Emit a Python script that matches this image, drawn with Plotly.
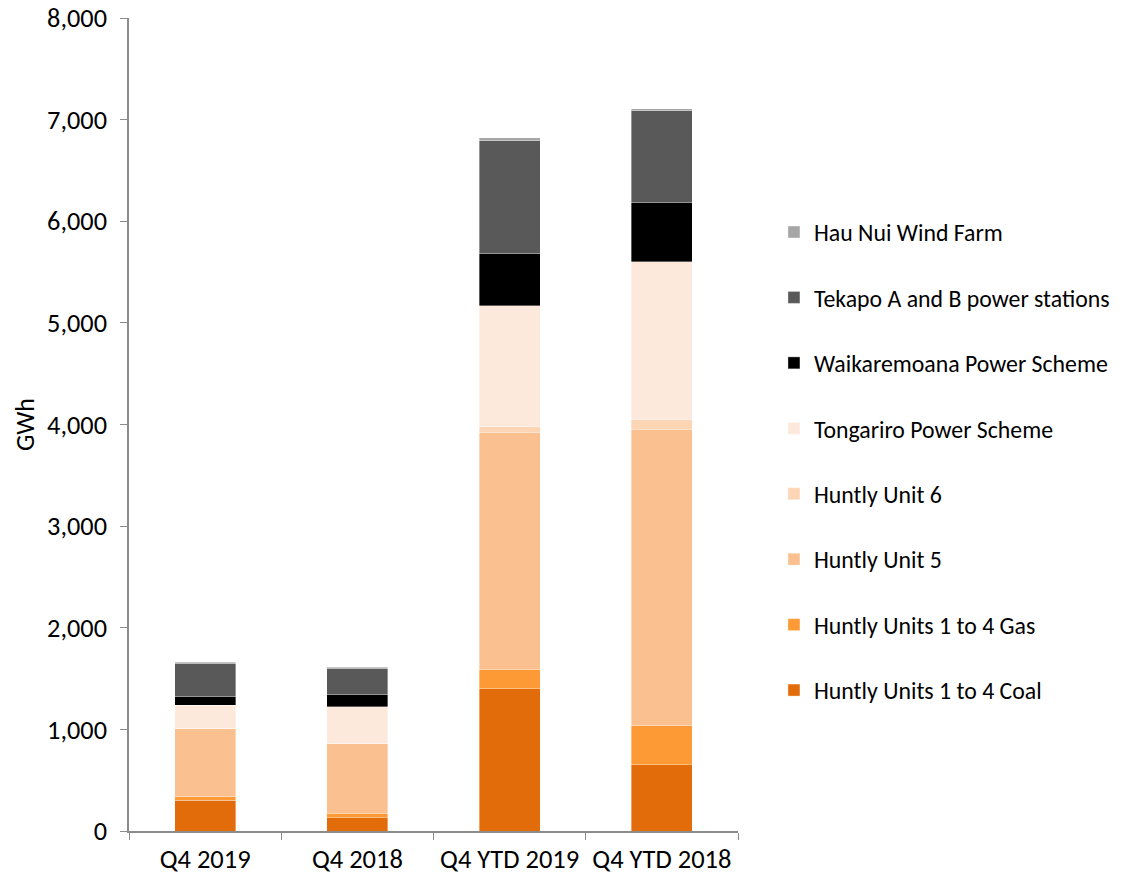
import plotly.graph_objects as go

categories = ["Q4 2019", "Q4 2018", "Q4 YTD 2019", "Q4 YTD 2018"]

series_names = [
    "Huntly Units 1 to 4 Coal",
    "Huntly Units 1 to 4 Gas",
    "Huntly Unit 5",
    "Huntly Unit 6",
    "Tongariro Power Scheme",
    "Waikaremoana Power Scheme",
    "Tekapo A and B power stations",
    "Hau Nui Wind Farm",
]

coal = [305, 131, 1401, 653]
gas = [32, 46, 193, 383]
unit5 = [667, 682, 2326, 2911]
unit6 = [5, 5, 59, 98]
tongariro = [226, 359, 1191, 1555]
waikaremoana = [92, 124, 512, 581]
tekapo = [322, 256, 1112, 908]
hau_nui = [10, 8, 30, 20]

series_values = [coal, gas, unit5, unit6, tongariro, waikaremoana, tekapo, hau_nui]
colors = ["#E36C0A", "#FD9A35", "#FAC090", "#FCD5B5", "#FDE9DB", "#000000", "#595959", "#A6A6A6"]

y_ticks = [0, 1000, 2000, 3000, 4000, 5000, 6000, 7000, 8000]

FONT = "Calibri, Carlito, Lato, sans-serif"

fig = go.Figure()
n = len(series_names)
for i, (name, vals, col) in enumerate(zip(series_names, series_values, colors)):
    fig.add_trace(go.Bar(
        x=categories, y=vals, name=name,
        marker=dict(color=col, line=dict(color="rgba(255,255,255,0.6)", width=0.6)),
        legendgroup=f"g{i}",
        legendrank=n - i,
    ))

fig.update_layout(
    barmode="stack",
    bargap=0.6,
    width=1122, height=878,
    margin=dict(l=129, r=384, t=18, b=47),
    plot_bgcolor="white", paper_bgcolor="white",
    font=dict(family=FONT, size=26, color="#000000"),
    showlegend=True,
    legend=dict(
        traceorder="grouped",
        tracegroupgap=31.5,
        xref="container", yref="container",
        x=0.6898, y=0.7608, xanchor="left", yanchor="top",
        font=dict(family=FONT, size=23.8, color="#000000"),
        maxheight=1.0,
    ),
    xaxis=dict(
        showline=True, linecolor="#8C8C8C", linewidth=1.5,
        ticks="outside", tickson="boundaries", ticklen=7, tickcolor="#8C8C8C",
        tickfont=dict(size=26.5),
        ticklabelstandoff=3,
        showgrid=False, automargin=False,
    ),
    yaxis=dict(
        range=[0, 8000], tickvals=y_ticks, tickformat=",d",
        showline=True, linecolor="#8C8C8C", linewidth=1.5,
        ticks="outside", ticklen=7, tickcolor="#8C8C8C",
        tickfont=dict(size=26.3),
        ticklabelstandoff=8,
        ticklabeloverflow="allow",
        showgrid=False, zeroline=False, automargin=False,
        title=dict(text="GWh", font=dict(size=26), standoff=5),
    ),
)

fig.write_html(
    "out.html",
    config={"displayModeBar": False},
    post_script="document.body.style.margin='0';",
)
